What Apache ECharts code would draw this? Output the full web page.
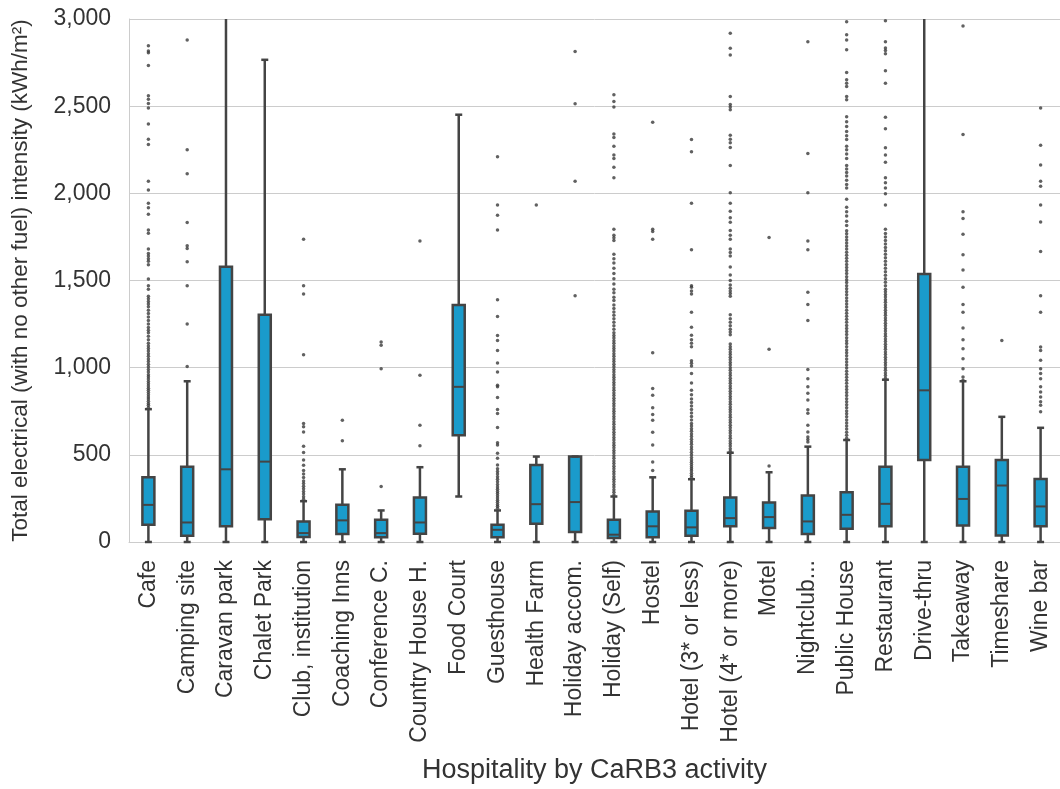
<!DOCTYPE html>
<html>
<head>
<meta charset="utf-8">
<script src="https://cdn.jsdelivr.net/npm/echarts@6/dist/echarts.min.js"></script>
<style>
  html, body { margin: 0; padding: 0; background: #fff; }
  #main { width: 1060px; height: 789px; }
</style>
</head>
<body>
<div id="main"></div>
<script>
var categories = ['Cafe', 'Camping site', 'Caravan park', 'Chalet Park', 'Club, institution', 'Coaching Inns',
  'Conference C.', 'Country House H.', 'Food Court', 'Guesthouse', 'Health Farm', 'Holiday accom.',
  'Holiday (Self)', 'Hostel', 'Hotel (3* or less)', 'Hotel (4* or more)', 'Motel', 'Nightclub...',
  'Public House', 'Restaurant', 'Drive-thru', 'Takeaway', 'Timeshare', 'Wine bar'];

// box statistics (kWh/m2)
var lowWhisker  = [0, 0, 0, 0, 0, 0, 0, 0, 261, 0, 0, 0, 0, 0, 0, 0, 0, 0, 0, 0, 0, 0, 0, 0];
var q1          = [99, 36, 90, 131, 29, 46, 27, 47, 613, 27, 105, 57, 23, 27, 36, 90, 80, 46, 76, 90, 470, 95, 38, 90];
var median      = [213, 112, 417, 461, 51, 124, 51, 112, 890, 70, 217, 229, 42, 90, 84, 137, 143, 118, 156, 219, 870, 247, 324, 204];
var q3          = [371, 432, 1579, 1303, 118, 213, 128, 255, 1360, 99, 442, 490, 128, 175, 179, 255, 227, 267, 286, 432, 1537, 432, 470, 362];
var highWhisker = [762, 922, 3000, 2766, 234, 417, 181, 429, 2451, 181, 490, 490, 261, 371, 360, 512, 400, 547, 585, 931, 3000, 922, 718, 655];

var outliers = [
  // Cafe
  [772, 785, 795, 808, 820, 832, 845, 858, 870, 882, 895, 908, 920, 935, 948, 960, 975, 990, 1005, 1020, 1035, 1050, 1065, 1080, 1095, 1110, 1125, 1140, 1160, 1180, 1200, 1215, 1230, 1250, 1270, 1290, 1310, 1330, 1350, 1365, 1380, 1395, 1410, 1450, 1470, 1509, 1590, 1610, 1625, 1640, 1655, 1680, 1771, 1790, 1880, 1918, 1943, 2019, 2070, 2280, 2310, 2398, 2490, 2515, 2540, 2560, 2733, 2806, 2817, 2846],
  // Camping site
  [1006, 1251, 1470, 1607, 1684, 1699, 1833, 2113, 2250, 2880],
  [],
  [],
  // Club, institution
  [245, 260, 275, 290, 305, 320, 335, 350, 370, 390, 410, 440, 470, 514, 549, 631, 661, 680, 1074, 1423, 1470, 1737],
  [581, 699],
  [318, 994, 1128, 1147],
  [552, 670, 956, 1727],
  [],
  // Guesthouse
  [194, 205, 215, 228, 240, 252, 265, 278, 290, 303, 316, 330, 345, 360, 375, 390, 405, 420, 442, 480, 509, 556, 570, 657, 737, 760, 829, 890, 899, 975, 1027, 1099, 1156, 1185, 1293, 1390, 1789, 1874, 1933, 2210],
  [1933],
  [1413, 2070, 2514, 2813],
  // Holiday (Self)
  [270, 285, 300, 315, 330, 345, 360, 375, 390, 405, 420, 435, 450, 465, 480, 495, 510, 525, 540, 555, 570, 585, 600, 615, 630, 645, 660, 675, 690, 705, 720, 735, 750, 765, 780, 795, 810, 825, 840, 855, 870, 885, 900, 915, 930, 945, 960, 975, 990, 1005, 1020, 1035, 1050, 1065, 1080, 1095, 1110, 1125, 1140, 1155, 1170, 1185, 1200, 1220, 1240, 1260, 1280, 1300, 1320, 1340, 1360, 1385, 1404, 1430, 1450, 1480, 1510, 1540, 1570, 1600, 1625, 1650, 1730, 1745, 1760, 1794, 2090, 2150, 2200, 2220, 2270, 2320, 2340, 2495, 2527, 2566],
  // Hostel
  [410, 459, 556, 629, 699, 731, 770, 842, 880, 1086, 1737, 1781, 1794, 2408],
  // Hotel (3* or less)
  [370, 382, 395, 408, 420, 432, 445, 458, 470, 485, 500, 515, 530, 545, 560, 575, 590, 605, 620, 635, 650, 665, 680, 700, 720, 740, 760, 780, 800, 820, 845, 870, 912, 966, 1010, 1025, 1040, 1120, 1140, 1160, 1186, 1232, 1318, 1423, 1440, 1461, 1470, 1676, 1943, 2238, 2309],
  // Hotel (4* or more)
  [520, 535, 550, 565, 580, 595, 610, 625, 640, 655, 670, 685, 700, 715, 730, 745, 760, 775, 790, 805, 820, 835, 850, 865, 880, 895, 910, 925, 940, 955, 970, 985, 1000, 1015, 1030, 1045, 1060, 1075, 1090, 1105, 1120, 1136, 1189, 1205, 1220, 1240, 1260, 1280, 1303, 1410, 1425, 1440, 1455, 1474, 1500, 1531, 1577, 1640, 1660, 1680, 1737, 1760, 1787, 1834, 1860, 1897, 1943, 2004, 2160, 2263, 2290, 2310, 2333, 2480, 2495, 2510, 2556, 2794, 2832, 2918],
  [436, 1105, 1747],
  // Nightclub...
  [574, 588, 602, 631, 670, 739, 758, 815, 853, 891, 937, 989, 1270, 1363, 1432, 1676, 1727, 2004, 2229, 2870],
  // Public House
  [595, 612, 630, 648, 665, 682, 700, 718, 735, 752, 770, 788, 805, 822, 840, 858, 875, 892, 910, 928, 945, 962, 980, 998, 1015, 1032, 1050, 1068, 1085, 1102, 1120, 1138, 1155, 1172, 1190, 1208, 1225, 1242, 1260, 1278, 1295, 1312, 1330, 1348, 1365, 1382, 1400, 1418, 1435, 1452, 1470, 1488, 1505, 1522, 1540, 1558, 1575, 1592, 1610, 1628, 1645, 1662, 1680, 1698, 1715, 1732, 1750, 1768, 1785, 1815, 1840, 1870, 1895, 1920, 1966, 2030, 2050, 2075, 2100, 2120, 2140, 2160, 2200, 2225, 2250, 2270, 2309, 2330, 2354, 2383, 2410, 2440, 2537, 2556, 2613, 2632, 2651, 2693, 2823, 2880, 2910, 2984],
  // Restaurant
  [940, 955, 970, 985, 1000, 1015, 1030, 1045, 1060, 1075, 1090, 1105, 1120, 1135, 1150, 1165, 1180, 1195, 1210, 1225, 1240, 1255, 1270, 1285, 1300, 1315, 1330, 1345, 1360, 1375, 1390, 1405, 1420, 1435, 1450, 1470, 1490, 1510, 1530, 1550, 1570, 1590, 1610, 1630, 1650, 1670, 1690, 1710, 1730, 1750, 1770, 1794, 1933, 1997, 2030, 2060, 2090, 2178, 2220, 2261, 2370, 2436, 2632, 2703, 2800, 2820, 2834, 2870, 2990],
  [],
  // Takeaway
  [928, 947, 994, 1051, 1109, 1160, 1227, 1318, 1362, 1461, 1560, 1647, 1766, 1855, 1895, 2337, 2960],
  [1156],
  // Wine bar
  [747, 785, 804, 832, 861, 890, 937, 966, 994, 1042, 1099, 1118, 1318, 1413, 1667, 1836, 1933, 2040, 2070, 2162, 2276, 2490]
];

var yTicks = [0, 500, 1000, 1500, 2000, 2500, 3000];
var yMax = 3000;

var boxData = [];
for (var i = 0; i < categories.length; i++) {
  boxData.push([i, lowWhisker[i], q1[i], median[i], q3[i], highWhisker[i]]);
}
var pointData = [];
for (var c = 0; c < outliers.length; c++) {
  for (var k = 0; k < outliers[c].length; k++) {
    pointData.push([c, outliers[c][k]]);
  }
}

var lineColor = '#444444';
var boxColor = '#1a9bcb';

function renderBox(params, api) {
  var x = api.value(0);
  var hiVal = api.value(5);
  var lo = api.coord([x, api.value(1)]);
  var b1 = api.coord([x, api.value(2)]);
  var md = api.coord([x, api.value(3)]);
  var b3 = api.coord([x, api.value(4)]);
  var hi = api.coord([x, Math.min(hiVal, yMax)]);
  var cx = lo[0];
  var half = 6, cap = 3.5;
  var st = { stroke: lineColor, lineWidth: 2.5, fill: null };
  var kids = [
    { type: 'line', shape: { x1: cx, y1: lo[1], x2: cx, y2: b1[1] }, style: st },
    { type: 'line', shape: { x1: cx, y1: b3[1], x2: cx, y2: hi[1] }, style: st },
    { type: 'line', shape: { x1: cx - cap, y1: lo[1], x2: cx + cap, y2: lo[1] }, style: st },
    { type: 'rect', shape: { x: cx - half, y: b3[1], width: half * 2, height: b1[1] - b3[1] },
      style: { fill: boxColor, stroke: lineColor, lineWidth: 2.5 } },
    { type: 'line', shape: { x1: cx - half, y1: md[1], x2: cx + half, y2: md[1] }, style: { stroke: lineColor, lineWidth: 2 } }
  ];
  if (hiVal < yMax) {
    kids.push({ type: 'line', shape: { x1: cx - cap, y1: hi[1], x2: cx + cap, y2: hi[1] }, style: st });
  }
  return { type: 'group', children: kids };
}

var chart = echarts.init(document.getElementById('main'));
chart.setOption({
  animation: false,
  grid: { left: 129, top: 19, width: 940, height: 525 },
  xAxis: {
    type: 'category',
    data: categories,
    name: 'Hospitality by CaRB3 activity',
    nameLocation: 'middle',
    nameGap: 215,
    nameTextStyle: { fontFamily: 'Liberation Sans', fontSize: 27, color: '#333' },
    axisLine: { lineStyle: { color: '#cccccc', width: 1 } },
    axisTick: { show: false },
    axisLabel: { interval: 0, rotate: 90, margin: 18, fontFamily: 'Liberation Sans', fontSize: 23, color: '#333' },
    splitLine: { show: false }
  },
  yAxis: {
    type: 'value',
    min: 0,
    max: yMax,
    interval: 500,
    name: 'Total electrical (with no other fuel) intensity (kWh/m²)',
    nameLocation: 'middle',
    nameGap: 97,
    nameTextStyle: { fontFamily: 'Liberation Sans', fontSize: 22.5, color: '#333' },
    axisLine: { show: true, lineStyle: { color: '#cccccc', width: 1 } },
    axisTick: { show: false },
    axisLabel: {
      margin: 18, fontFamily: 'Liberation Sans', fontSize: 23, color: '#333',
      formatter: function (v) { return yTicks.indexOf(v) >= 0 ? v.toLocaleString('en-US') : ''; }
    },
    splitLine: { lineStyle: { color: '#cccccc', width: 1 } }
  },
  series: [
    {
      type: 'custom',
      renderItem: renderBox,
      encode: { x: 0, y: [1, 2, 3, 4, 5] },
      data: boxData,
      z: 3
    },
    {
      type: 'scatter',
      data: pointData,
      symbol: 'circle',
      symbolSize: 3.5,
      itemStyle: { color: '#3a3a3a' },
      z: 2
    }
  ]
});
</script>
</body>
</html>
